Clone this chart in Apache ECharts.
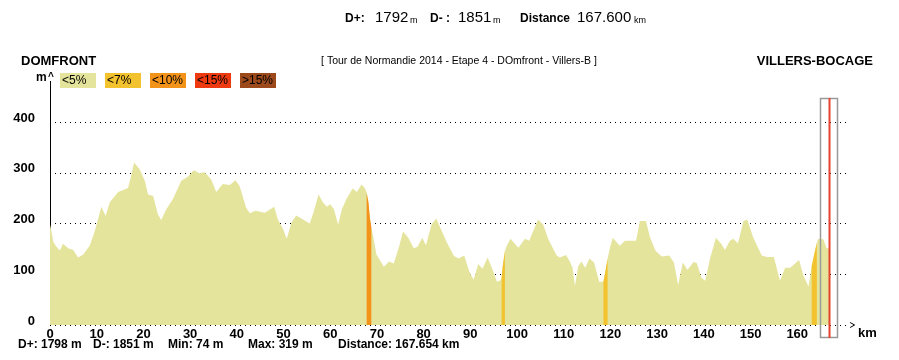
<!DOCTYPE html>
<html><head><meta charset="utf-8">
<script src="https://cdn.jsdelivr.net/npm/echarts@6/dist/echarts.min.js"></script>
<style>html,body{margin:0;padding:0;background:#fff}#c{width:899px;height:360px}</style>
</head><body><div id="c"></div>
<script>
// ---- DATA ----
const distKm = [0,0.3,0.7,1.3,2.1,2.8,3.9,5.0,6.0,7.1,8.5,9.6,11.0,11.9,12.8,14.6,16.7,17.2,18.0,19.2,20.3,21.0,22.1,23.1,23.8,24.9,26.3,28.1,29.5,30.8,32.0,33.1,34.5,35.6,37.0,38.5,39.7,40.6,42.0,42.8,44.0,46.0,48.0,48.8,49.9,50.7,51.7,52.7,54.2,55.6,56.4,57.5,58.5,59.3,60.0,60.8,61.7,62.5,63.5,64.8,65.7,66.7,67.4,67.8,68.2,68.5,68.8,69.2,69.9,71.5,72.6,73.6,74.8,75.6,76.7,77.9,78.7,79.7,80.5,81.7,82.7,83.7,85.0,86.5,87.5,88.7,89.8,90.7,91.7,92.6,93.7,94.6,95.7,96.5,96.7,96.9,97.4,97.8,98.6,100.3,101.7,102.6,104.5,105.6,106.7,108.5,109.2,110.5,111.3,111.9,112.4,113.1,113.8,114.6,115.5,116.5,117.6,118.5,119.0,119.4,119.9,120.5,122.0,123.1,125.5,126.3,127.6,128.5,129.7,131.0,132.6,133.6,134.5,135.5,136.5,137.8,138.5,139.5,140.3,141.3,142.6,143.8,144.5,145.6,146.3,147.3,148.5,149.3,150.6,152.4,153.5,155.0,156.3,157.4,158.5,160.4,161.3,162.4,163.1,163.8,164.2,164.5,165.6,166.3,166.9];
const elevM = [198,185,164,155,147,160,151,148,133,139,156,185,233,215,242,262,270,287,320,307,284,257,254,218,207,228,248,284,292,305,299,301,287,262,278,276,285,274,231,220,225,221,233,208,189,170,202,216,208,200,221,257,241,233,238,228,198,228,249,269,262,277,270,261,241,211,193,175,139,115,125,121,156,184,172,151,154,172,157,198,210,189,162,136,131,137,105,89,120,111,133,113,85,88,92,113,146,156,170,152,170,166,208,198,169,137,133,138,125,113,77,116,125,113,131,123,85,85,110,131,152,172,156,166,166,205,205,172,146,135,137,123,79,123,109,124,122,93,87,130,172,159,148,166,170,161,205,208,172,137,134,134,87,113,113,128,98,76,116,146,162,170,169,151,151];
const steepStart = [67.8, 96.7, 118.5, 163.1];
const steepEnd   = [68.8, 97.4, 119.4, 164.2];
const steepClass = [2, 1, 1, 1];
const legendLabels = ['<5%', '<7%', '<10%', '<15%', '>15%'];
const yTicks = [0, 100, 200, 300, 400];
const xTickStep = 10;
const headerStats = {dplus: '1792', dminus: '1851', dist: '167.600'};
const footerStats = ['D+: 1798 m', 'D-: 1851 m', 'Min: 74 m', 'Max: 319 m', 'Distance: 167.654 km'];
const startName = 'DOMFRONT';
const endName = 'VILLERS-BOCAGE';
const stageTitle = '[ Tour de Normandie 2014 - Etape 4 - DOmfront - Villers-B ]';

// ---- STYLE ----
const FONT = "'Liberation Sans', Arial, sans-serif";
const slopeColors = ['#E5E49D', '#F3C22F', '#F4931A', '#EE3A10', '#9C4A1B'];

const chart = echarts.init(document.getElementById('c'), null, {renderer: 'canvas'});
const pts = distKm.map((d, i) => [d, elevM[i]]);

const series = [{
  type: 'line', data: pts, symbol: 'none', silent: true,
  lineStyle: {width: 0, opacity: 0},
  areaStyle: {color: slopeColors[0], opacity: 1}, z: 2
}];
steepStart.forEach((s, k) => {
  series.push({
    type: 'line', symbol: 'none', silent: true,
    data: pts.filter(p => p[0] >= s && p[0] <= steepEnd[k]),
    lineStyle: {width: 0, opacity: 0},
    areaStyle: {color: slopeColors[steepClass[k]], opacity: 1}, z: 3
  });
});

chart.setOption({
  animation: false,
  backgroundColor: '#fff',
  grid: {left: 50, right: 50.4, top: 81.4, bottom: 35, containLabel: false},
  xAxis: {
    type: 'value', min: 0, max: 171, interval: xTickStep,
    axisLine: {show: false}, axisTick: {show: false}, splitLine: {show: false},
    axisLabel: {
      margin: 3, color: '#000', fontFamily: FONT, fontWeight: 'bold', fontSize: 13,
      formatter: v => (v <= 160 ? String(v) : '')
    }
  },
  yAxis: {
    type: 'value', min: 0, max: 480, interval: 100,
    axisLine: {show: true, lineStyle: {color: '#000', width: 1}},
    axisTick: {show: false},
    axisLabel: {
      margin: 15, color: '#000', fontFamily: FONT, fontWeight: 'bold', fontSize: 13,
      verticalAlign: 'bottom', lineHeight: 8,
      formatter: v => (yTicks.indexOf(v) >= 0 ? String(v) : '')
    },
    splitLine: {show: true, showMaxLine: false, lineStyle: {color: '#000', type: [1, 4], width: 1}}
  },
  series: series
});

// decorations
const endX = chart.convertToPixel({xAxisIndex: 0}, distKm[distKm.length - 1]);
const zeroY = chart.convertToPixel({yAxisIndex: 0}, 0);
const gridRight = chart.convertToPixel({xAxisIndex: 0}, 171);

const g = [];
function txt(x, y, text, font, align) {
  g.push({type: 'text', silent: true, z: 10, style: {x: x, y: y, text: text, font: font, fill: '#000', align: align || 'left', verticalAlign: 'middle'}});
}
// header
txt(345, 19, 'D+:', 'bold 12px ' + FONT);
txt(375, 18, headerStats.dplus, '15px ' + FONT);
txt(410, 20.5, 'm', '9px ' + FONT);
txt(430, 19, 'D- :', 'bold 12px ' + FONT);
txt(458, 18, headerStats.dminus, '15px ' + FONT);
txt(493, 20.5, 'm', '9px ' + FONT);
txt(520, 19, 'Distance', 'bold 12px ' + FONT);
txt(577, 18, headerStats.dist, '15px ' + FONT);
txt(634, 20.5, 'km', '9px ' + FONT);
// names & title
txt(21, 61, startName, 'bold 13px ' + FONT);
txt(459, 61, stageTitle, '10.5px ' + FONT, 'center');
txt(873, 61, endName, 'bold 13px ' + FONT, 'right');
// axis units
txt(36, 78, 'm', 'bold 12px ' + FONT);
txt(48, 77, '^', 'bold 10px ' + FONT);
txt(858, 333, 'km', 'bold 13px ' + FONT);
g.push({type: 'polyline', silent: true, z: 10, shape: {points: [[gridRight + 1.5, zeroY - 2.5], [gridRight + 6, zeroY], [gridRight + 1.5, zeroY + 2.5]]}, style: {stroke: '#000', lineWidth: 1, fill: null}});
// legend
legendLabels.forEach((l, i) => {
  const x = 60 + i * 45;
  g.push({type: 'rect', silent: true, z: 10, shape: {x: x, y: 73, width: 36, height: 15}, style: {fill: slopeColors[i]}});
  txt(x + 2, 81, l, '12px ' + FONT);
});
// footer
const footX = [18, 93, 168, 248, 338];
footerStats.forEach((s, i) => txt(footX[i], 345, s, 'bold 12px ' + FONT));
// end marker
g.push({type: 'rect', silent: true, z: 11, shape: {x: Math.round(endX) - 8.5, y: 98.5, width: 17, height: 239}, style: {fill: null, stroke: '#9a9a9a', lineWidth: 1.5}});
g.push({type: 'line', silent: true, z: 12, shape: {x1: Math.round(endX) + 0.5, y1: 98, x2: Math.round(endX) + 0.5, y2: 338}, style: {stroke: '#E5432D', lineWidth: 2}});

chart.setOption({graphic: g});
</script></body></html>
